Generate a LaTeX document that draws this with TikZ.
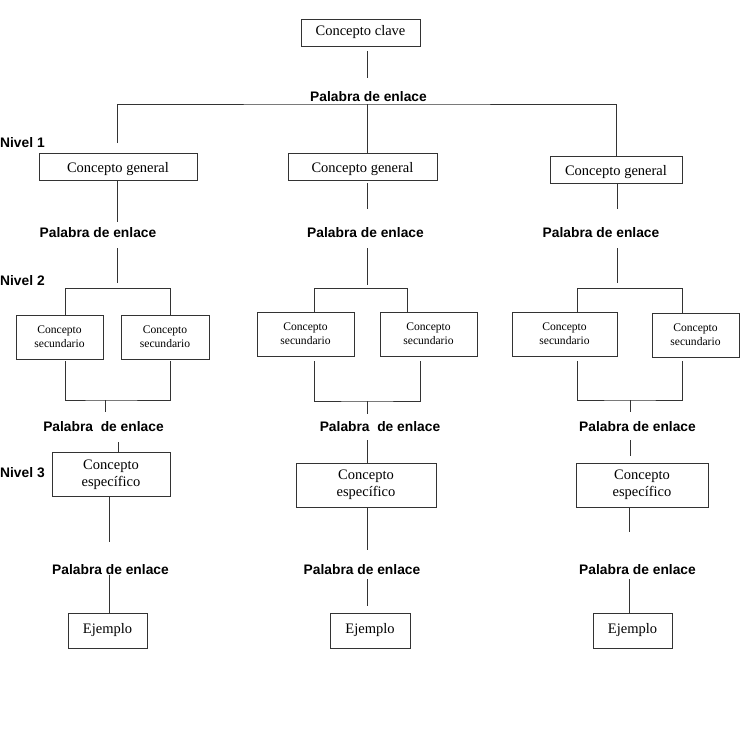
\documentclass[tikz,border=0pt]{standalone}
\usepackage{fontspec}
\setmainfont{Liberation Serif}
\setsansfont{Liberation Sans}
\begin{document}
\begin{tikzpicture}[x=1pt,y=-1pt,ln/.style={draw=black!80,line width=0.9pt},box/.style={draw=black!80,line width=0.9pt,inner sep=0,align=center,font=\fontsize{14.5}{16.7}\selectfont},sbox/.style={box,minimum height=44,font=\fontsize{11.6}{13.7}\selectfont},enlace/.style={inner sep=0,font=\fontsize{13.8}{16}\selectfont\sffamily\bfseries},nivel/.style={enlace,anchor=west}]
\useasboundingbox(0,0)rectangle(742,755);
\node[box,minimum width=119,minimum height=27](clave)at(360.5,32.5){Concepto clave};
\foreach \n/\x/\y/\w in {gen1/118/166.5/158,gen2/362.5/166.5/149,gen3/616/169.5/132}\node[box,minimum width=\w,minimum height=27,text height=11pt,text depth=0pt](\n)at(\x,\y){Concepto general};
\foreach \n/\x/\y/\w in {sec1/59.5/337/87,sec2/165/337/88,sec3/305.5/334/97,sec4/428.5/334/97,sec5/564.5/334/105,sec6/695.5/335/87}\node[sbox,minimum width=\w](\n)at(\x,\y){Concepto\\secundario};
\foreach \n/\x/\y/\w in {esp1/111/474.5/118,esp2/366/485/140,esp3/642/485/132}\node[box,minimum width=\w,minimum height=44](\n)at(\x,\y){Concepto\\específico};
\foreach \n/\x/\w in {ej1/107.5/79,ej2/370/80,ej3/632.5/79}\node[box,minimum width=\w,minimum height=35](\n)at(\x,630.5){Ejemplo};
\node[enlace](pe0)at(368.5,97){Palabra de enlace};
\foreach \n/\x/\y in {pa1/98/233,pa2/365.5/233,pa3/601/233,pb3/637.5/427,pc1/110.5/570,pc2/362/570,pc3/637.5/570}\node[enlace](\n)at(\x,\y){Palabra de enlace};
\foreach \n/\x in {pb1/103.5,pb2/380}\node[enlace](\n)at(\x,427){Palabra\ \ de enlace};
\foreach \i/\y in {1/143,2/281,3/473}\node[nivel](n\i)at(0,\y){Nivel \i};
\foreach \n/\x/\y in {k0a/367/51,k0b/367/78,bus/367/104,k1/117/143,g1/117/222,g2a/367/183,g2b/367/209,g3/617/209,
  h1a/117/248,h1b/117/283,h2a/367/248,h2b/367/285,h3a/617/248,h3b/617/283,
  u1l/65/288,u1r/170/288,u2l/314/288,u2r/407/288,u3l/577/288,u3r/682/288,
  v1l/65/361,v1r/170/361,v2l/314/361,v2r/420/361,v3l/577/361,v3r/682/361,
  m1/105/400,m1b/105/412,m2/367/401,m2b/367/414,m3/630/400,m3b/630/412,
  e1/118/442,e2/367/440,e3a/630/440,e3b/630/456,f1/109/542,f2/367/550,f3/629/532,
  j1/109/575,j2a/367/579,j2b/367/606,j3/629/579}\coordinate(\n)at(\x,\y);
\draw[ln](k0a)--(k0b);
\draw[ln](k1)|-(bus)-|(gen3.north);
\draw[ln](bus)--(bus|-gen2.north);
\draw[ln](g1|-gen1.south)--(g1);
\draw[ln](g2a)--(g2b);
\draw[ln](g3|-gen3.south)--(g3);
\foreach \i in {1,2,3}\draw[ln](h\i a)--(h\i b);
\draw[ln](u1l|-sec1.north)--(u1l)--(u1r)--(u1r|-sec2.north);
\draw[ln](u2l|-sec3.north)--(u2l)--(u2r)--(u2r|-sec4.north);
\draw[ln](u3l|-sec5.north)--(u3l)--(u3r)--(u3r|-sec6.north);
\foreach \i in {1,2,3}{\draw[ln](v\i l)|-(m\i)-|(v\i r);\draw[ln](m\i)--(m\i b);}
\draw[ln](e1)--(e1|-esp1.north);
\draw[ln](e2)--(e2|-esp2.north);
\draw[ln](e3a)--(e3b);
\draw[ln](f1|-esp1.south)--(f1);
\draw[ln](f2|-esp2.south)--(f2);
\draw[ln](f3|-esp3.south)--(f3);
\draw[ln](j1)--(j1|-ej1.north);
\draw[ln](j2a)--(j2b);
\draw[ln](j3)--(j3|-ej3.north);
\end{tikzpicture}
\end{document}
